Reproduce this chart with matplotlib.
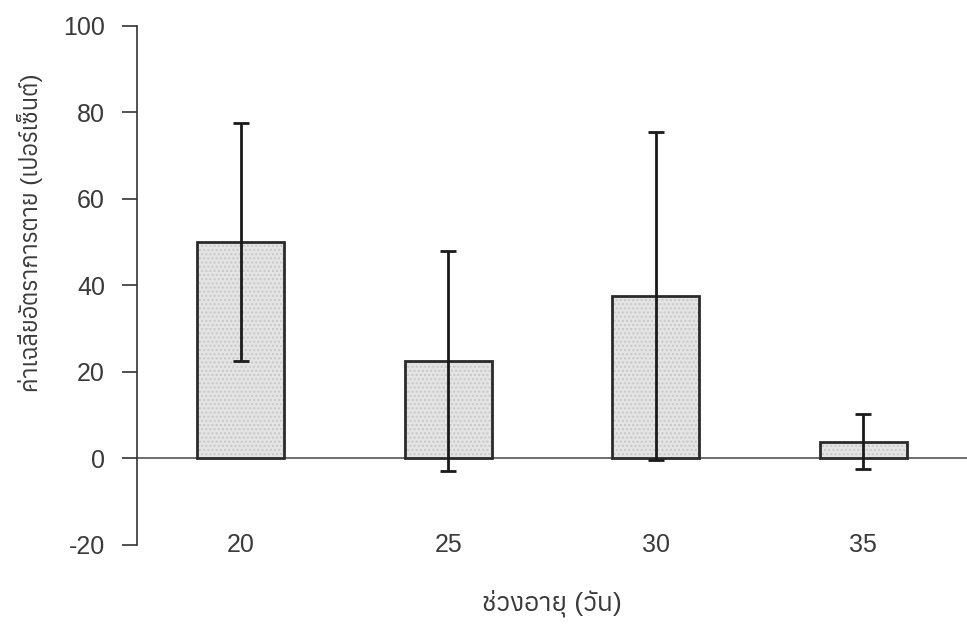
import matplotlib
matplotlib.use("Agg")
import matplotlib.pyplot as plt
from matplotlib import font_manager
from matplotlib.ft2font import FT2Font

ages = ["20", "25", "30", "35"]
mean_mortality = [50.0, 22.5, 37.5, 3.8]
err = [27.5, 25.5, 38.0, 6.4]
y_ticks = [-20, 0, 20, 40, 60, 80, 100]

x_label = "ช่วงอายุ (วัน)"
y_label = "ค่าเฉลี่ยอัตราการตาย (เปอร์เซ็นต์)"

# find a font that can draw Thai
thai_fonts = []
for f in font_manager.fontManager.ttflist:
    try:
        if 0x0E0A in FT2Font(f.fname).get_charmap():
            thai_fonts.append(f.name)
    except Exception:
        pass
thai_fonts = sorted(set(thai_fonts))
plt.rcParams["font.family"] = ["Liberation Sans"] + thai_fonts[:1] + ["DejaVu Sans"]
plt.rcParams["axes.unicode_minus"] = False

fig = plt.figure(figsize=(9.67, 6.26), dpi=100)
ax = fig.add_axes([0.1417, 0.130, 0.8583, 0.829])

x = list(range(len(ages)))
# stippled fill, then the outline on top
ax.bar(x, mean_mortality, width=0.42, color="#e4e4e4", edgecolor="#c8c8c8",
       linewidth=0, hatch="....", zorder=2)
ax.bar(x, mean_mortality, width=0.42, facecolor="none", edgecolor="#2a2a2a",
       linewidth=2, zorder=2.5)
ax.errorbar(x, mean_mortality, yerr=err, fmt="none", ecolor="#1a1a1a",
            elinewidth=2, capsize=6, capthick=2, zorder=3)
ax.axhline(0, color="#555555", linewidth=1.2, zorder=1)

ax.set_xlim(-0.5, 3.5)
ax.set_ylim(-20, 100)
ax.set_yticks(y_ticks)
ax.set_xticks(x)
ax.set_xticklabels(ages)
ax.tick_params(axis="y", direction="out", length=11, width=1.2, pad=12,
               labelsize=18, labelcolor="#3a3a3a", color="#333333")
ax.tick_params(axis="x", length=0, pad=0, labelsize=18, labelcolor="#3a3a3a")
for lbl in ax.get_xticklabels():
    lbl.set_verticalalignment("center")

for s in ["top", "right", "bottom"]:
    ax.spines[s].set_visible(False)
ax.spines["left"].set_color("#333333")
ax.spines["left"].set_linewidth(1.2)

ax.set_xlabel(x_label, fontsize=19, color="#3a3a3a")
ax.xaxis.set_label_coords(0.5, -0.086)
ax.set_ylabel(y_label, fontsize=17, color="#3a3a3a")
ax.yaxis.set_label_coords(-0.113, 0.60)

fig.savefig("out.png", dpi=100)
